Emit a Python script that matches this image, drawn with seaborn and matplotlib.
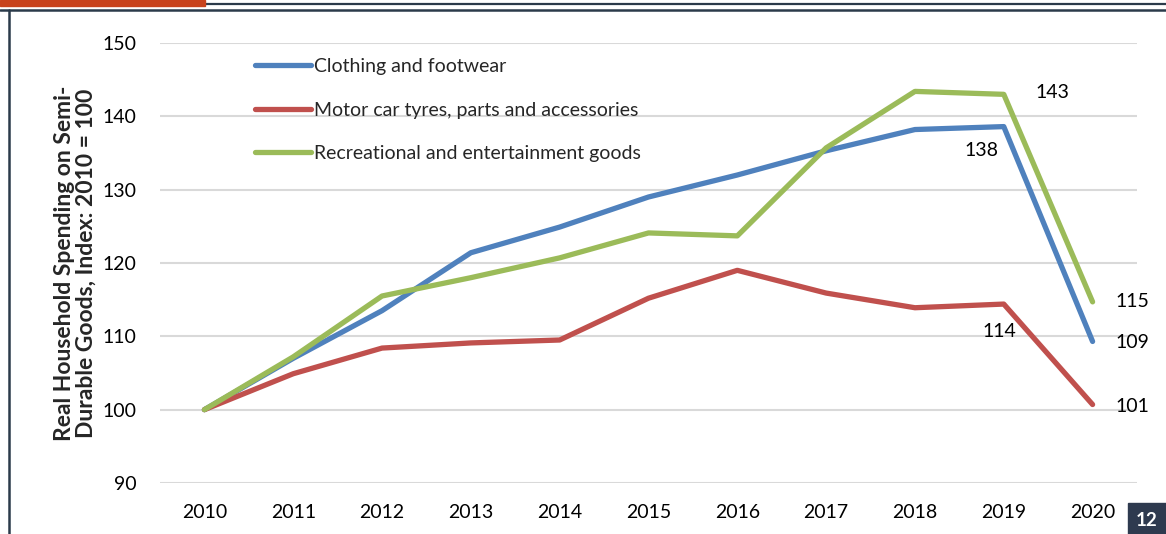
import matplotlib
matplotlib.use("Agg")
import matplotlib.pyplot as plt
from matplotlib.patches import Rectangle
from matplotlib.lines import Line2D
import seaborn as sns
import pandas as pd

years = list(range(2010, 2021))
clothing = [100, 107.0, 113.5, 121.4, 124.9, 129.0, 132.0, 135.3, 138.2, 138.6, 109.3]
motor = [100, 104.9, 108.4, 109.1, 109.5, 115.2, 119.0, 115.9, 113.9, 114.4, 100.7]
recreational = [100, 107.2, 115.5, 118.0, 120.7, 124.1, 123.7, 135.7, 143.4, 143.0, 114.7]
series_names = ["Clothing and footwear",
                "Motor car tyres, parts and accessories",
                "Recreational and entertainment goods"]
colors = ["#4F81BD", "#C0504D", "#9BBB59"]
y_ticks = [90, 100, 110, 120, 130, 140, 150]
y_label = "Real Household Spending on Semi-\nDurable Goods, Index: 2010 = 100"

# value labels: (text, x, y)
value_labels = [("143", 2019.55, 143.3), ("138", 2018.75, 135.3),
                ("114", 2018.95, 110.6), ("115", 2020.45, 114.7),
                ("109", 2020.45, 109.1), ("101", 2020.45, 100.5)]

df = pd.DataFrame({
    "year": years * 3,
    "value": clothing + motor + recreational,
    "series": [series_names[0]] * len(years) + [series_names[1]] * len(years)
              + [series_names[2]] * len(years),
})

sns.set_theme(style="white")
plt.rcParams["font.family"] = ["Lato", "DejaVu Sans"]

fig = plt.figure(figsize=(11.66, 5.34), dpi=100)
ax = fig.add_axes([160 / 1166, 1 - 483 / 534, (1137 - 160) / 1166, 440 / 534])

sns.lineplot(data=df, x="year", y="value", hue="series", hue_order=series_names,
             palette=colors, linewidth=3.8, ax=ax, legend=False, zorder=3)

ax.set_xlim(2009.5, 2020.5)
ax.set_ylim(90, 150)
ax.set_yticks(y_ticks)
ax.set_xticks(years)
ax.set_xticklabels([str(y) for y in years])
ax.grid(axis="y", color="#D9D9D9", linewidth=1.5, zorder=0)
ax.grid(axis="x", visible=False)
for s in ax.spines.values():
    s.set_visible(False)
ax.tick_params(axis="y", length=0, pad=17, labelsize=14, colors="black")
ax.tick_params(axis="x", length=0, pad=15, labelsize=14, colors="black")
ax.set_xlabel("")
ax.set_ylabel(y_label, fontsize=16.5, fontweight="bold", labelpad=4,
              linespacing=1.05)

for txt, x, y in value_labels:
    ax.text(x, y, txt, fontsize=14, ha="center", va="center", color="black")

handles = [Line2D([0], [0], color=c, linewidth=3.8) for c in colors]
ax.legend(handles, series_names, loc="upper left", bbox_to_anchor=(0.079, 1.005),
          frameon=False, fontsize=14, handlelength=2.9, handletextpad=0.15,
          labelspacing=1.35)

# page decorations
fig.patches.append(Rectangle((0, 1 - 6 / 534), 205 / 1166, 6 / 534,
                             transform=fig.transFigure, color="#C8421C", zorder=5))
fig.add_artist(Line2D([205 / 1166, 1], [1 - 3.5 / 534] * 2, color="#2B3A4A",
                      linewidth=1.6, transform=fig.transFigure))
fig.add_artist(Line2D([0, 1], [1 - 10 / 534] * 2, color="#2B3A4A",
                      linewidth=1.8, transform=fig.transFigure))
fig.add_artist(Line2D([8.5 / 1166] * 2, [0, 1 - 10 / 534], color="#2B3A4A",
                      linewidth=1.8, transform=fig.transFigure))
fig.patches.append(Rectangle((1128 / 1166, 0), 38 / 1166, 31 / 534,
                             transform=fig.transFigure, color="#2E3A4F", zorder=5))
fig.text(1147 / 1166, 14 / 534, "12", color="white", fontsize=13.5,
         fontweight="bold", ha="center", va="center", zorder=10)

fig.savefig("out.png", dpi=100)
